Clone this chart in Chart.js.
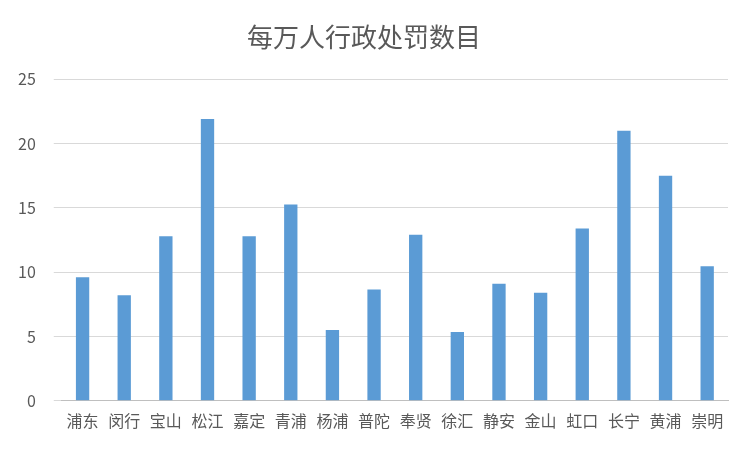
<!DOCTYPE html>
<html><head><meta charset="utf-8">
<script src="https://cdn.jsdelivr.net/npm/chart.js@4"></script>
<style>html,body{margin:0;padding:0;background:#fff}#w{width:752px;height:452px;position:relative}</style>
</head><body><div id="w"><canvas id="c"></canvas></div>
<script>
const categories=["浦东","闵行","宝山","松江","嘉定","青浦","杨浦","普陀","奉贤","徐汇","静安","金山","虹口","长宁","黄浦","崇明"];
const values=[9.6,8.2,12.8,21.9,12.8,15.25,5.5,8.65,12.9,5.35,9.1,8.4,13.4,21.0,17.5,10.45];
const yTicks=[0,5,10,15,20,25];
const F="'Noto Sans CJK SC','Noto Sans',sans-serif";
new Chart(document.getElementById('c'),{type:'bar',
data:{labels:categories,datasets:[{data:values,backgroundColor:'#5B9BD5',categoryPercentage:0.8,barPercentage:0.4}]},
options:{responsive:true,maintainAspectRatio:false,animation:false,
layout:{padding:{left:0,right:24,top:18,bottom:18}},
plugins:{legend:{display:false},tooltip:{enabled:false},
title:{display:true,text:'每万人行政处罚数目',color:'#595959',font:{family:F,size:26,weight:'normal'},padding:{top:4,bottom:26}}},
scales:{x:{grid:{display:false},border:{color:'#bfbfbf'},ticks:{color:'#595959',font:{family:F,size:16},maxRotation:0,autoSkip:false}},
y:{min:0,max:25,afterBuildTicks:a=>{a.ticks=yTicks.map(v=>({value:v}))},grid:{color:'#d9d9d9'},border:{display:false},ticks:{color:'#595959',font:{family:F,size:16},padding:18}}}}});
</script></body></html>
